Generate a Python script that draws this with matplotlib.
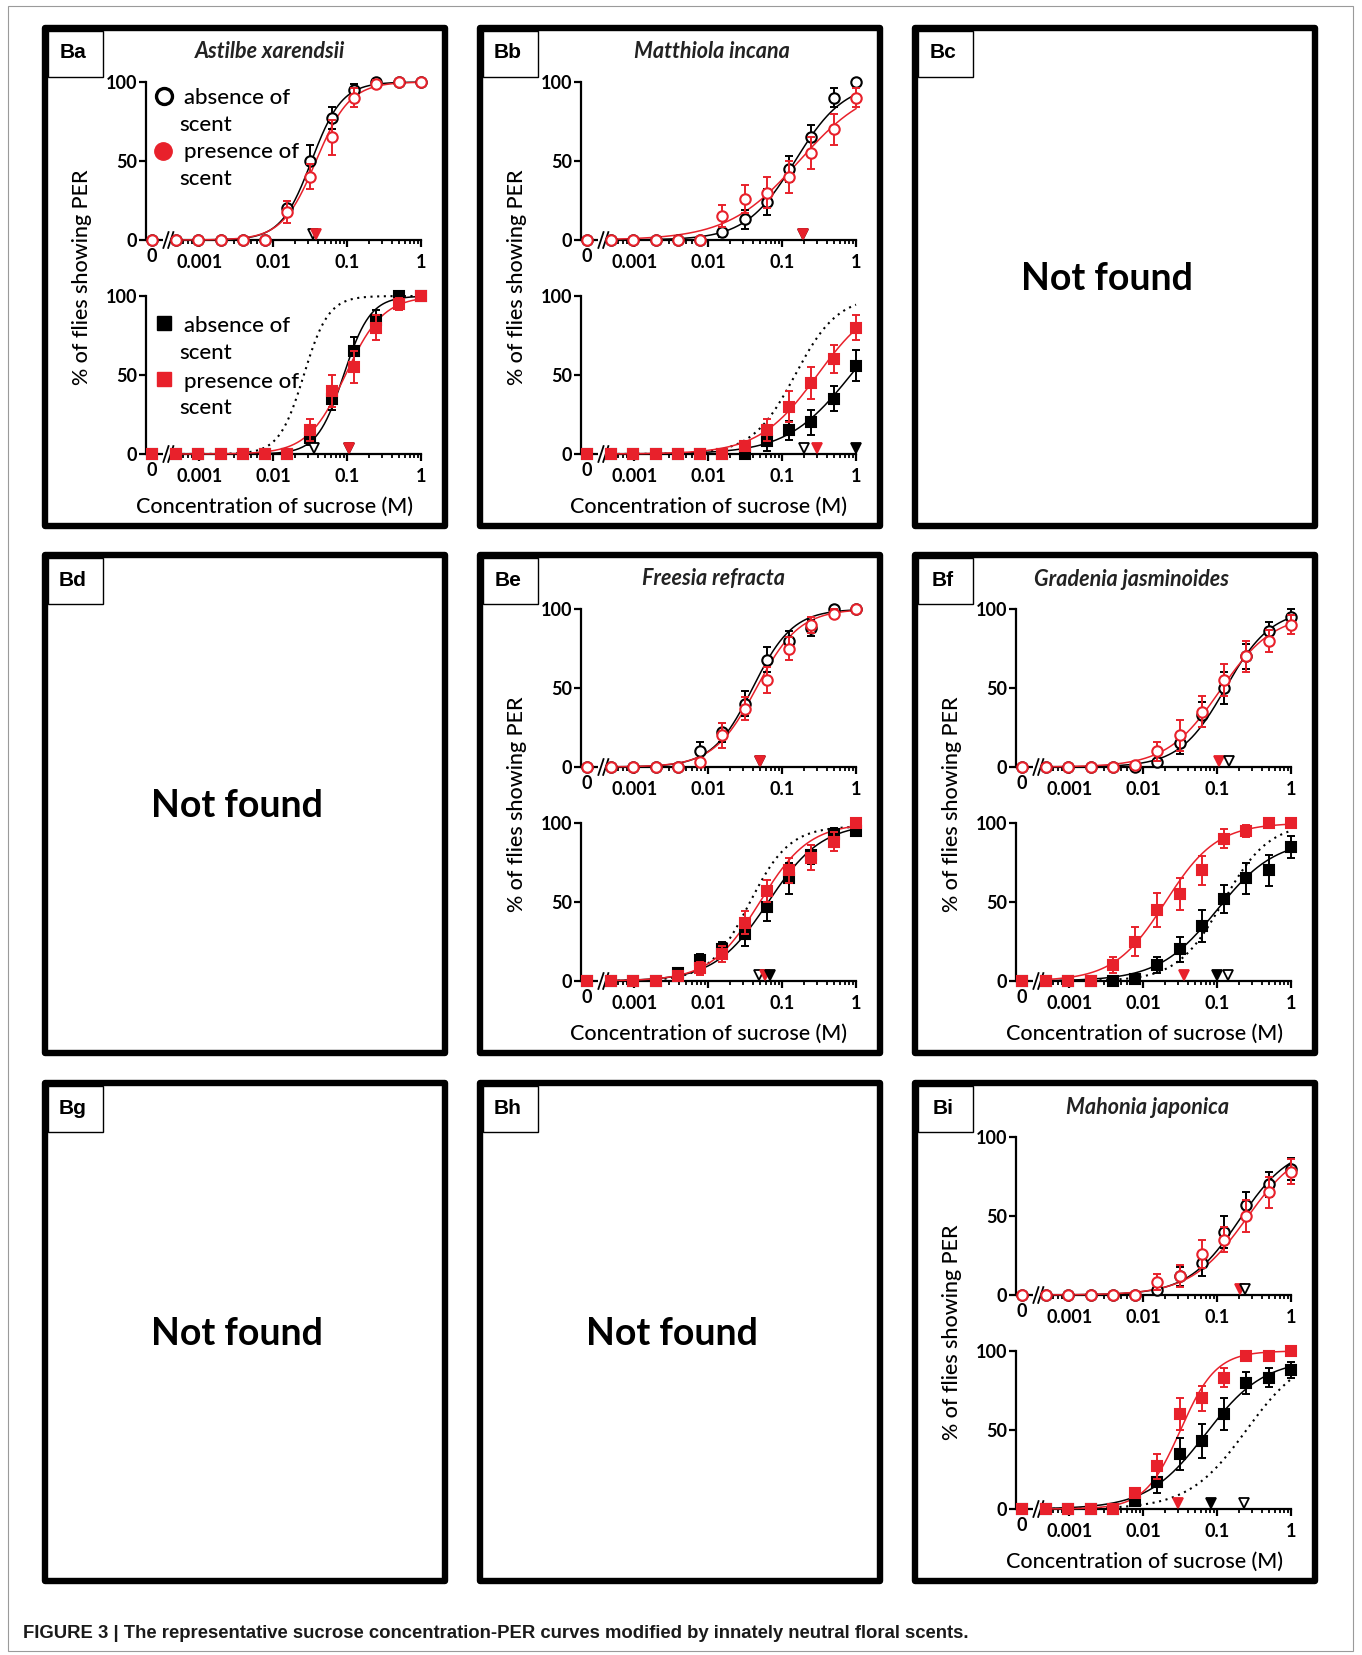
import numpy as np
import matplotlib.pyplot as plt
from matplotlib.patches import Rectangle
from matplotlib.ticker import FixedLocator, FixedFormatter, NullFormatter

W, H = 1362, 1655
RED = '#e8212b'
FONT = 'Lato'

# sucrose concentrations (M); 0 is drawn left of the axis break
conc = [0, 0.000488, 0.000977, 0.00195, 0.0039, 0.0078, 0.0156,
        0.03125, 0.0625, 0.125, 0.25, 0.5, 1.0]

# Ba  Astilbe xarendsii
ba_up_abs = [0, 0, 0, 0, 0, 0, 20, 50, 77, 95, 100, 100, 100]
ba_up_abs_err = [0, 0, 0, 0, 0, 0, 5, 10, 7, 4, 0, 0, 0]
ba_up_pres = [0, 0, 0, 0, 0, 0, 18, 40, 65, 90, 99, 100, 100]
ba_up_pres_err = [0, 0, 0, 0, 0, 0, 7, 8, 11, 6, 2, 0, 0]
ba_lo_abs = [0, 0, 0, 0, 0, 0, 0, 10, 35, 65, 85, 100, 100]
ba_lo_abs_err = [0, 0, 0, 0, 0, 0, 0, 4, 7, 9, 6, 2, 0]
ba_lo_pres = [0, 0, 0, 0, 0, 0, 0, 15, 40, 55, 80, 95, 100]
ba_lo_pres_err = [0, 0, 0, 0, 0, 0, 0, 7, 10, 10, 8, 4, 0]
# fitted curves (EC50, hill, top): up abs, up pres, low abs, low pres, reference
ba_fits = [(0.033, 2.1, 100), (0.038, 1.9, 100), (0.09, 2.4, 100),
           (0.095, 1.7, 100), (0.026, 2.6, 100)]
ba_ec50_up = [('open', 0.035), ('red', 0.038)]
ba_ec50_lo = [('open', 0.036), ('black', 0.105), ('red', 0.105)]

# Bb  Matthiola incana
bb_up_abs = [0, 0, 0, 0, 0, 0, 5, 13, 24, 45, 65, 90, 100]
bb_up_abs_err = [0, 0, 0, 0, 0, 0, 3, 6, 8, 8, 8, 6, 0]
bb_up_pres = [0, 0, 0, 0, 0, 0, 15, 26, 30, 40, 55, 70, 90]
bb_up_pres_err = [0, 0, 0, 0, 0, 0, 7, 9, 10, 10, 10, 10, 6]
bb_lo_abs = [0, 0, 0, 0, 0, 0, 0, 0, 8, 15, 20, 35, 56]
bb_lo_abs_err = [0, 0, 0, 0, 0, 0, 0, 0, 6, 6, 8, 8, 10]
bb_lo_pres = [0, 0, 0, 0, 0, 0, 0, 5, 15, 30, 45, 60, 80]
bb_lo_pres_err = [0, 0, 0, 0, 0, 0, 0, 3, 7, 10, 10, 9, 8]
bb_fits = [(0.15, 1.3, 100), (0.17, 0.9, 100), (0.85, 1.0, 100),
           (0.3, 1.1, 100), (0.15, 1.5, 100)]
bb_ec50_up = [('open', 0.19), ('red', 0.19)]
bb_ec50_lo = [('open', 0.2), ('red', 0.3), ('black', 1.0)]

# Be  Freesia refracta
be_up_abs = [0, 0, 0, 0, 0, 10, 22, 40, 68, 80, 88, 100, 100]
be_up_abs_err = [0, 0, 0, 0, 0, 6, 6, 8, 8, 6, 5, 2, 0]
be_up_pres = [0, 0, 0, 0, 0, 3, 20, 37, 55, 75, 90, 97, 100]
be_up_pres_err = [0, 0, 0, 0, 0, 2, 8, 7, 8, 7, 5, 3, 0]
be_lo_abs = [0, 0, 0, 0, 5, 13, 20, 30, 47, 65, 80, 93, 95]
be_lo_abs_err = [0, 0, 0, 0, 2, 4, 5, 8, 9, 10, 6, 4, 3]
be_lo_pres = [0, 0, 0, 0, 3, 8, 17, 37, 57, 70, 78, 88, 100]
be_lo_pres_err = [0, 0, 0, 0, 2, 4, 5, 7, 7, 8, 8, 6, 2]
be_fits = [(0.04, 1.6, 100), (0.045, 1.5, 100), (0.065, 1.2, 100),
           (0.05, 1.3, 100), (0.036, 1.6, 98)]
be_ec50_up = [('open', 0.05), ('red', 0.05)]
be_ec50_lo = [('open', 0.048), ('red', 0.058), ('black', 0.068)]

# Bf  Gradenia jasminoides
bf_up_abs = [0, 0, 0, 0, 0, 0, 3, 15, 33, 50, 70, 86, 95]
bf_up_abs_err = [0, 0, 0, 0, 0, 0, 2, 7, 8, 10, 8, 6, 5]
bf_up_pres = [0, 0, 0, 0, 0, 1, 10, 20, 35, 55, 70, 80, 90]
bf_up_pres_err = [0, 0, 0, 0, 0, 1, 6, 10, 10, 10, 10, 7, 6]
bf_lo_abs = [0, 0, 0, 0, 0, 1, 10, 20, 35, 52, 65, 70, 85]
bf_lo_abs_err = [0, 0, 0, 0, 0, 1, 5, 8, 10, 9, 10, 10, 7]
bf_lo_pres = [0, 0, 0, 0, 10, 25, 45, 55, 70, 90, 95, 100, 100]
bf_lo_pres_err = [0, 0, 0, 0, 5, 9, 11, 10, 9, 6, 4, 1, 0]
bf_fits = [(0.13, 1.4, 100), (0.11, 1.2, 97), (0.1, 1.1, 90),
           (0.02, 1.25, 100), (0.12, 1.4, 100)]
bf_ec50_up = [('red', 0.105), ('open', 0.145)]
bf_ec50_lo = [('red', 0.036), ('black', 0.1), ('open', 0.14)]

# Bi  Mahonia japonica
bi_up_abs = [0, 0, 0, 0, 0, 0, 3, 12, 20, 40, 57, 70, 80]
bi_up_abs_err = [0, 0, 0, 0, 0, 0, 2, 6, 8, 10, 8, 8, 7]
bi_up_pres = [0, 0, 0, 0, 0, 0, 8, 12, 26, 35, 50, 65, 78]
bi_up_pres_err = [0, 0, 0, 0, 0, 0, 5, 7, 9, 8, 10, 10, 8]
bi_lo_abs = [0, 0, 0, 0, 0, 5, 17, 35, 43, 60, 80, 83, 88]
bi_lo_abs_err = [0, 0, 0, 0, 0, 3, 7, 10, 11, 10, 7, 6, 5]
bi_lo_pres = [0, 0, 0, 0, 0, 10, 27, 60, 70, 83, 97, 97, 100]
bi_lo_pres_err = [0, 0, 0, 0, 0, 3, 8, 10, 8, 6, 2, 3, 0]
bi_fits = [(0.2, 1.25, 95), (0.25, 1.15, 97), (0.07, 1.1, 95),
           (0.032, 1.8, 100), (0.25, 1.1, 100)]
bi_ec50_up = [('red', 0.205), ('open', 0.24)]
bi_ec50_lo = [('red', 0.03), ('black', 0.083), ('open', 0.23)]

panels = [
    ('Ba', 0, 0, 'Astilbe xarendsii', 225,
     (ba_up_abs, ba_up_abs_err, ba_up_pres, ba_up_pres_err),
     (ba_lo_abs, ba_lo_abs_err, ba_lo_pres, ba_lo_pres_err), ba_fits, ba_ec50_up, ba_ec50_lo),
    ('Bb', 1, 0, 'Matthiola incana', 232,
     (bb_up_abs, bb_up_abs_err, bb_up_pres, bb_up_pres_err),
     (bb_lo_abs, bb_lo_abs_err, bb_lo_pres, bb_lo_pres_err), bb_fits, bb_ec50_up, bb_ec50_lo),
    ('Be', 1, 1, 'Freesia refracta', 233,
     (be_up_abs, be_up_abs_err, be_up_pres, be_up_pres_err),
     (be_lo_abs, be_lo_abs_err, be_lo_pres, be_lo_pres_err), be_fits, be_ec50_up, be_ec50_lo),
    ('Bf', 2, 1, 'Gradenia jasminoides', 216,
     (bf_up_abs, bf_up_abs_err, bf_up_pres, bf_up_pres_err),
     (bf_lo_abs, bf_lo_abs_err, bf_lo_pres, bf_lo_pres_err), bf_fits, bf_ec50_up, bf_ec50_lo),
    ('Bi', 2, 2, 'Mahonia japonica', 233,
     (bi_up_abs, bi_up_abs_err, bi_up_pres, bi_up_pres_err),
     (bi_lo_abs, bi_lo_abs_err, bi_lo_pres, bi_lo_pres_err), bi_fits, bi_ec50_up, bi_ec50_lo),
]
empty_panels = [('Bc', 2, 0), ('Bd', 0, 1), ('Bg', 0, 2), ('Bh', 1, 2)]

caption = ('FIGURE 3 | The representative sucrose concentration-PER curves '
           'modified by innately neutral floral scents.')

# layout (pixels)
COL_X = [45, 480, 915]
ROW_Y = [28, 555, 1083]
PW, PH = 400, 498
X_LEFT = 10 ** -3.72
ZERO_POS = 10 ** -3.64
STUB_END = 10 ** -3.49
AXIS_START = 10 ** -3.345
BREAKS = [10 ** -3.45, 10 ** -3.385]
minor_ticks = [m * 10.0 ** e for e in (-4, -3, -2, -1) for m in range(2, 10)
               if m * 10.0 ** e > 0.00046]
TICK_FS = 13


def hill(x, ec50, n, top):
    return top / (1 + (ec50 / x) ** n)


def px_axes(fig, x, y, w, h):
    return fig.add_axes([x / W, 1 - (y + h) / H, w / W, h / H])


def style_axes(ax):
    ax.set_xscale('log')
    ax.set_xlim(X_LEFT, 1)
    ax.set_ylim(0, 100)
    ax.patch.set_visible(False)
    ax.spines['top'].set_visible(False)
    ax.spines['right'].set_visible(False)
    ax.spines['left'].set_linewidth(1.6)
    ax.spines['bottom'].set_linewidth(1.6)
    ax.spines['bottom'].set_bounds(AXIS_START, 1)
    ax.set_yticks([0, 50, 100])
    ax.xaxis.set_major_locator(FixedLocator([0.001, 0.01, 0.1, 1]))
    ax.xaxis.set_major_formatter(FixedFormatter(['0.001', '0.01', '0.1', '1']))
    ax.xaxis.set_minor_locator(FixedLocator(minor_ticks))
    ax.xaxis.set_minor_formatter(NullFormatter())
    ax.tick_params(axis='both', which='major', length=5, width=1.6, direction='out',
                   labelsize=TICK_FS)
    ax.tick_params(axis='x', which='minor', length=3, width=1.3, direction='out')
    ax.tick_params(axis='x', which='major', pad=5)
    ax.tick_params(axis='y', which='major', pad=1.5)
    for lab in ax.get_xticklabels() + ax.get_yticklabels():
        lab.set_fontfamily(FONT)
        lab.set_fontweight('bold')
    ax.plot([X_LEFT, STUB_END], [0, 0], color='k', lw=1.6, clip_on=False,
            solid_capstyle='butt')
    for b in BREAKS:
        ax.plot([b / 10 ** 0.035, b * 10 ** 0.035], [-5, 5], color='k', lw=1.3,
                clip_on=False)
    ax.annotate('0', xy=(ZERO_POS, 0), xycoords=('data', 'axes fraction'),
                xytext=(0, -12), textcoords='offset points', ha='center', va='center',
                fontsize=TICK_FS, fontweight='bold', family=FONT)


def draw_sub(ax, series, fit_abs, fit_pres, ref_fit, ec50s, filled):
    abs_v, abs_e, pres_v, pres_e = series
    xs = np.array([ZERO_POS if c == 0 else c for c in conc])
    xc = np.logspace(np.log10(conc[1]), 0, 300)
    if ref_fit is not None:
        ax.plot(xc, hill(xc, *ref_fit), color='k', lw=1.5, ls=(0, (1, 2.2)),
                clip_on=False)
    ax.plot(xc, hill(xc, *fit_abs), color='k', lw=1.1, clip_on=False, zorder=3)
    ax.plot(xc, hill(xc, *fit_pres), color=RED, lw=1.1, clip_on=False, zorder=3)
    mk = 's' if filled else 'o'
    for vals, errs, col, z in ((abs_v, abs_e, 'k', 4), (pres_v, pres_e, RED, 5)):
        vals = np.array(vals, float)
        errs = np.array(errs, float)
        has = errs > 0
        eb = ax.errorbar(xs[has], vals[has], yerr=errs[has], fmt='none', ecolor=col,
                         elinewidth=1.4, capsize=3, capthick=1.4, zorder=z)
        for art in eb.lines[1] + eb.lines[2]:
            art.set_clip_on(False)
        ax.plot(xs, vals, ls='none', marker=mk, ms=7 if filled else 7.5,
                mec=col, mfc=col if filled else 'white', mew=1.5,
                clip_on=False, zorder=z)
    for kind, x in ec50s:
        fc = {'open': 'white', 'black': 'k', 'red': RED}[kind]
        ec = RED if kind == 'red' else 'k'
        ax.plot([x], [3.6], marker='v', ms=7.5, mfc=fc, mec=ec, mew=1.3,
                clip_on=False, zorder=6)


fig = plt.figure(figsize=(W / 100, H / 100), dpi=100)
over = fig.add_axes([0, 0, 1, 1])
over.set_xlim(0, W)
over.set_ylim(H, 0)
over.axis('off')

over.add_patch(Rectangle((8, 6), W - 17, H - 10, fill=False, ec='#9a9a9a', lw=0.8))

all_frames = [(p[0], p[1], p[2]) for p in panels] + empty_panels
for lab, c, r in all_frames:
    x0, y0 = COL_X[c], ROW_Y[r]
    over.add_patch(Rectangle((x0, y0), PW, PH, fill=False, ec='k', lw=4.6,
                             joinstyle='round'))
    over.add_patch(Rectangle((x0 + 3, y0 + 3), 55, 46, fill=False, ec='k', lw=1.0))
    over.text(x0 + 28, y0 + 25, lab, ha='center', va='center', fontsize=15,
              fontweight='bold', family='Liberation Sans')

for lab, c, r in empty_panels:
    over.text(COL_X[c] + 192, ROW_Y[r] + 251, 'Not found', ha='center', va='center',
              fontsize=27, fontweight='bold', family=FONT)

for lab, c, r, title, tx, up, lo, fits, ec_up, ec_lo in panels:
    x0, y0 = COL_X[c], ROW_Y[r]
    ax_up = px_axes(fig, x0 + 101, y0 + 54, 275, 158)
    ax_lo = px_axes(fig, x0 + 101, y0 + 268, 275, 158)
    for ax in (ax_up, ax_lo):
        style_axes(ax)
    draw_sub(ax_up, up, fits[0], fits[1], None, ec_up, False)
    draw_sub(ax_lo, lo, fits[2], fits[3], fits[4], ec_lo, True)
    over.text(x0 + tx, y0 + 24, title, ha='center', va='center', fontsize=15.5,
              style='italic', fontweight='bold', family=FONT, color='#222222')
    over.text(x0 + 37, y0 + 249, '% of flies showing PER', ha='center', va='center',
              rotation=90, fontsize=15.5, fontweight='medium', family=FONT)
    over.text(x0 + 229, y0 + 479, 'Concentration of sucrose (M)', ha='center',
              va='center', fontsize=15.5, fontweight='medium', family=FONT)

# legend of panel Ba
lx, ly = COL_X[0], ROW_Y[0]
over.plot([lx + 119], [ly + 68], marker='o', ms=11.5, mfc='white', mec='k', mew=2.4)
over.plot([lx + 118], [ly + 123], marker='o', ms=12.5, mfc=RED, mec=RED)
over.plot([lx + 119], [ly + 295], marker='s', ms=10.5, mfc='k', mec='k')
over.plot([lx + 119], [ly + 351], marker='s', ms=10.5, mfc=RED, mec=RED)
for txt, dx, dy in (('absence of', 139, 70), ('scent', 134, 97),
                    ('presence of', 139, 124), ('scent', 134, 151),
                    ('absence of', 139, 298), ('scent', 134, 325),
                    ('presence of', 139, 354), ('scent', 134, 380)):
    over.text(lx + dx, ly + dy, txt, ha='left', va='center', fontsize=16,
              fontweight='medium', family=FONT)

over.text(23, 1634, caption, ha='left', va='center', fontsize=13.3, fontweight='bold',
          family='Liberation Sans', color='#1a1a1a')

fig.savefig('out.png', dpi=100)
